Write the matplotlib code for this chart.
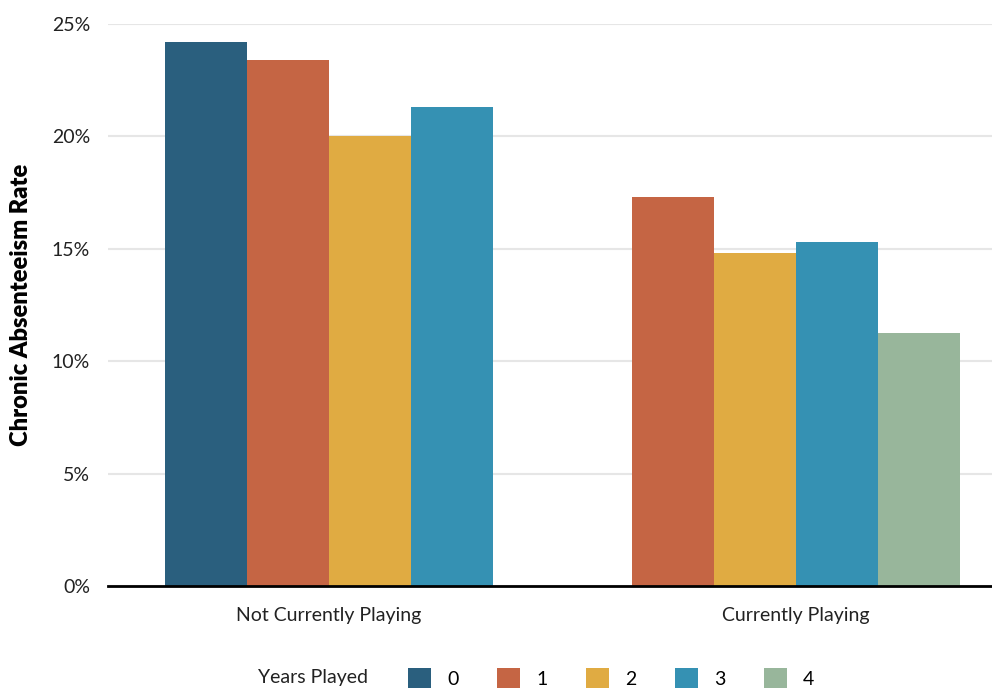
import matplotlib.pyplot as plt
from matplotlib.patches import Patch
import numpy as np

plt.rcParams['font.family'] = ['Lato', 'DejaVu Sans']

# data
groups = ['Not Currently Playing', 'Currently Playing']
years = ['0', '1', '2', '3', '4']
colors = ['#2a5f7e', '#c56544', '#e0ab42', '#3591b3', '#98b69b']
not_playing = {'0': 24.2, '1': 23.4, '2': 20.0, '3': 21.3}
playing = {'1': 17.3, '2': 14.8, '3': 15.3, '4': 11.25}
yticks = [0, 5, 10, 15, 20, 25]

fig = plt.figure(figsize=(9.92, 6.9), dpi=100)
ax = fig.add_axes([108/992, 1-586/690, 884/992, (586-24)/690])

w = 0.1756
for gi, series in enumerate([not_playing, playing]):
    keys = list(series.keys())
    n = len(keys)
    for i, k in enumerate(keys):
        x = gi + (i - (n-1)/2) * w
        ax.bar(x, series[k], width=w, color=colors[years.index(k)], zorder=2)

fs = 14
ax.set_xlim(-0.473, 1.42)
ax.set_ylim(0, 25)
ax.set_yticks(yticks)
ax.set_yticklabels([f'{t}%' for t in yticks], fontsize=fs, color='#222222')
ax.set_xticks([0, 1])
ax.set_xticklabels(groups, fontsize=fs, color='#222222')
ax.tick_params(axis='both', length=0)
ax.tick_params(axis='y', pad=13)
ax.tick_params(axis='x', pad=15)
ax.yaxis.grid(True, color='#e6e6e6', linewidth=1.5, zorder=0)
ax.set_axisbelow(True)
for s in ['left', 'right', 'top']:
    ax.spines[s].set_visible(False)
ax.spines['bottom'].set_color('black')
ax.spines['bottom'].set_linewidth(2)
ax.spines['bottom'].set_zorder(3)
ax.set_ylabel('Chronic Absenteeism Rate', fontsize=17, fontweight='heavy')
ax.yaxis.set_label_coords(-(108-21)/884, 0.5)
ax.yaxis.label.set_va('center')

handles = [Patch(facecolor=c, edgecolor='none') for c in colors]
fig.text(313/992, 1-678/690, 'Years Played', fontsize=fs, ha='center', va='center', color='#222222')
fig.legend(handles, years, loc='center left', bbox_to_anchor=(408/992, 1-678/690), ncol=5,
           frameon=False, fontsize=fs, handlelength=1.18, handleheight=1.18,
           handletextpad=0.82, columnspacing=2.0, borderaxespad=0, borderpad=0)

fig.savefig('out.png', dpi=100)
